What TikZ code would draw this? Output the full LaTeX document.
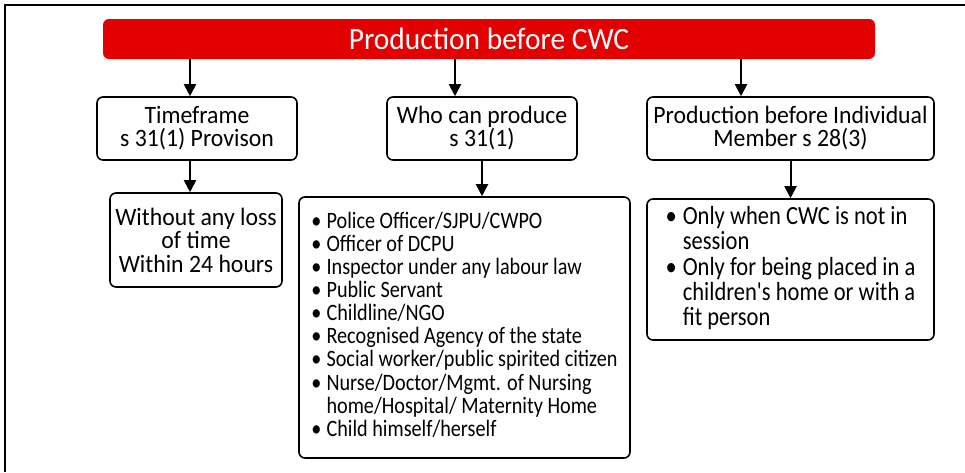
\documentclass[tikz,border=0pt]{standalone}
\usepackage{fontspec}
\setmainfont{Carlito}[FakeStretch=0.95]
\newfontfamily\narrowfont{Carlito}[FakeStretch=0.86]
\usepackage{tikz}
\usetikzlibrary{arrows.meta}

\definecolor{cwcred}{RGB}{226,0,0}

\begin{document}
\begin{tikzpicture}[x=1pt, y=-1pt,
    box/.style={draw, line width=1.6pt, rounded corners=6pt, align=center, inner sep=0pt,
      font=\fontsize{25}{23}\selectfont},
    arr/.style={line width=2pt, -{Triangle[width=12pt,length=12pt]}}]
      \useasboundingbox (0,0) rectangle (965,472);
      \draw[line width=2pt] (5,472) -- (5,5) -- (965,5);

      \node[fill=cwcred, rounded corners=6pt, minimum width=772pt, minimum height=40pt, text=white,
        font=\fontsize{31}{31}\selectfont] (bar) at (489,39) {Production before CWC};
      \node[box, minimum width=200pt, minimum height=63pt] (time) at (197,128.5) {Timeframe\\s 31(1) Provison};
      \node[box, minimum width=190pt, minimum height=63pt] (who) at (482,128.5) {Who can produce\\s 31(1)};
      \node[box, minimum width=287pt, minimum height=63pt] (member) at (790.5,128.5) {Production before Individual\\Member s 28(3)};
      \node[box, minimum width=172pt, minimum height=94pt, font=\fontsize{25}{23.5}\selectfont] (loss) at (196,240)
        {Without any loss\\of time\\Within 24 hours};
      \node[box, minimum width=331pt, minimum height=261pt, font=\narrowfont\fontsize{23.5}{22.7}\selectfont] (list) at (464.5,327.5)
        {\begin{tabular}{@{}l@{\hspace{5pt}}l@{}}
          • & Police Officer/SJPU/CWPO\\
          • & Officer of DCPU\\
          • & Inspector under any labour law\\
          • & Public Servant\\
          • & Childline/NGO\\
          • & Recognised Agency of the state\\
          • & Social worker/public spirited citizen\\
          • & Nurse/Doctor/Mgmt. of Nursing\\
            & home/Hospital/ Maternity Home\\
          • & Child himself/herself
        \end{tabular}};
      \node[box, minimum width=287pt, minimum height=141pt, font=\narrowfont\fontsize{26.2}{23.3}\selectfont] (session) at (790.5,269.5)
        {\begin{tabular}{@{}l@{\hspace{6pt}}l@{}}
          • & Only when CWC is not in\\
            & session\\
          • & Only for being placed in a\\
            & children{\char39}s home or with a\\
            & fit person
        \end{tabular}};

      \draw[arr] ([xshift=-7pt]time.north |- bar.south) -- ([xshift=-7pt]time.north);
      \draw[arr] ([xshift=-27pt]who.north |- bar.south) -- ([xshift=-27pt]who.north);
      \draw[arr] ([xshift=-49.5pt]member.north |- bar.south) -- ([xshift=-49.5pt]member.north);
      \draw[arr] ([xshift=-7pt]time.south) -- ([xshift=-7pt]time.south |- loss.north);
      \draw[arr] (who.south) -- (who.south |- list.north);
      \draw[arr] (member.south) -- (member.south |- session.north);
    \end{tikzpicture}
\end{document}
